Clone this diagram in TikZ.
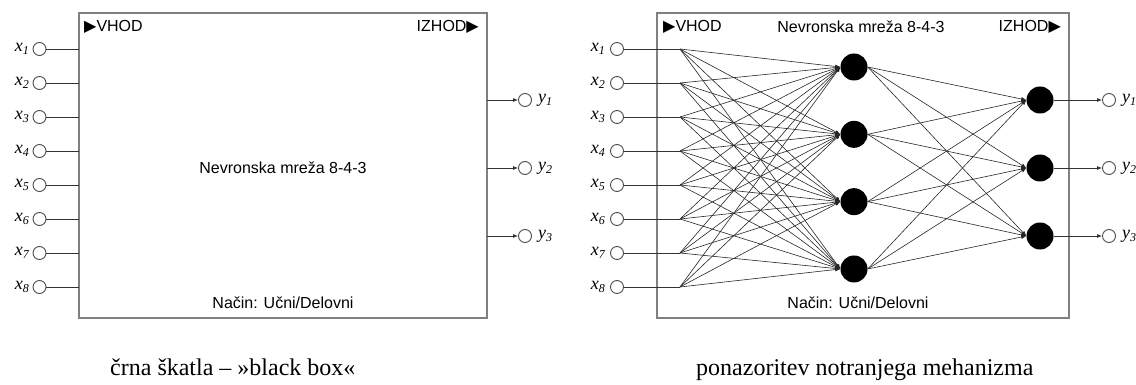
\documentclass[tikz,border=0pt]{standalone}
\usepackage{fontspec}
\setmainfont{Liberation Serif}
\newfontfamily\arialf{Liberation Sans}
\newfontfamily\dejavuf{DejaVu Sans}
\usetikzlibrary{arrows.meta}
\begin{document}
\begin{tikzpicture}[x=1pt,y=-1pt,
  box/.style={draw=black!50,line width=1.3pt,inner sep=0pt},
  incirc/.style={circle,draw=black!70,line width=0.9pt,minimum size=13pt,inner sep=0pt},
  neuron/.style={circle,fill=black,minimum size=27pt,inner sep=0pt},
  conn/.style={draw=black!80,line width=0.8pt},
  fan/.style={draw=black!85,line width=0.6pt,-{Latex[length=5pt,width=4pt]}},
  arr/.style={conn,-{Latex[length=5pt,width=4pt]}},
  lbl/.style={font=\fontsize{16}{19}\selectfont\arialf,inner sep=0pt},
  varlbl/.style={font=\fontsize{18}{20}\selectfont\itshape,inner sep=0pt},
  captxt/.style={font=\fontsize{24}{28}\selectfont,inner sep=0pt,anchor=base west}
]
\newcommand\subidx[1]{\raisebox{-0.45ex}{\fontsize{12}{13}\selectfont #1}}
\useasboundingbox (0,0) rectangle (1136,385);
% ---------- left panel ----------
\node[box,minimum width=408pt,minimum height=305pt] (boxL) at (283,165.5) {};
\node[lbl,anchor=west] (vhodL) at (84,27) {{\dejavuf ▶}VHOD};
\node[lbl,anchor=east] (izhodL) at (479,27) {IZHOD{\dejavuf ▶}};
\node[lbl] (titleL) at (283,168) {Nevronska mreža 8-4-3};
\node[lbl] (modeL) at (283,303) {Način: Učni/Delovni};
\foreach \i in {1,...,8} {
  \pgfmathsetmacro\yy{49+(\i-1)*34}
  \node[incirc] (lx\i) at (39.5,\yy) {};
  \node[varlbl,anchor=east] (lxl\i) at (29,\yy) {x\subidx{\i}};
  \coordinate (lb\i) at (79,\yy);
  \draw[conn] (lx\i.east) -- (lb\i);
}
\foreach \k/\yy in {1/100,2/168,3/236} {
  \coordinate (lo\k) at (487,\yy);
  \node[incirc] (ly\k) at (525,\yy) {};
  \node[varlbl,anchor=west] (lyl\k) at (538,\yy) {y\subidx{\k}};
  \draw[arr] (lo\k) -- (ly\k.west);
}
\node[captxt] (capL) at (110,375) {črna škatla – »black box«};
% ---------- right panel ----------
\node[box,minimum width=412pt,minimum height=305pt] (boxR) at (863,165.5) {};
\node[lbl,anchor=west] (vhodR) at (663,27) {{\dejavuf ▶}VHOD};
\node[lbl,anchor=east] (izhodR) at (1061,27) {IZHOD{\dejavuf ▶}};
\node[lbl] (titleR) at (861,27) {Nevronska mreža 8-4-3};
\node[lbl] (modeR) at (858,303) {Način: Učni/Delovni};
\foreach \j in {1,...,4} {
  \pgfmathsetmacro\yy{67+(\j-1)*67.33}
  \node[neuron] (h\j) at (854,\yy) {};
}
\foreach \k/\yy in {1/100,2/168,3/236} {
  \node[neuron] (o\k) at (1040,\yy) {};
  \node[incirc] (ry\k) at (1109,\yy) {};
  \node[varlbl,anchor=west] (ryl\k) at (1122,\yy) {y\subidx{\k}};
  \draw[arr] (o\k.east) -- (ry\k.west);
}
\foreach \i in {1,...,8} {
  \pgfmathsetmacro\yy{49+(\i-1)*34}
  \node[incirc] (rx\i) at (617,\yy) {};
  \node[varlbl,anchor=east] (rxl\i) at (605,\yy) {x\subidx{\i}};
  \coordinate (f\i) at (680,\yy);
  \draw[conn] (rx\i.east) -- (f\i);
  \foreach \j in {1,...,4} {
    \draw[fan] (f\i) -- (h\j.west);
  }
}
\foreach \j in {1,...,4} {
  \foreach \k in {1,2,3} {
    \draw[fan] (h\j.east) -- (o\k.west);
  }
}
\node[captxt] (capR) at (696,375) {ponazoritev notranjega mehanizma};
\end{tikzpicture}
\end{document}
